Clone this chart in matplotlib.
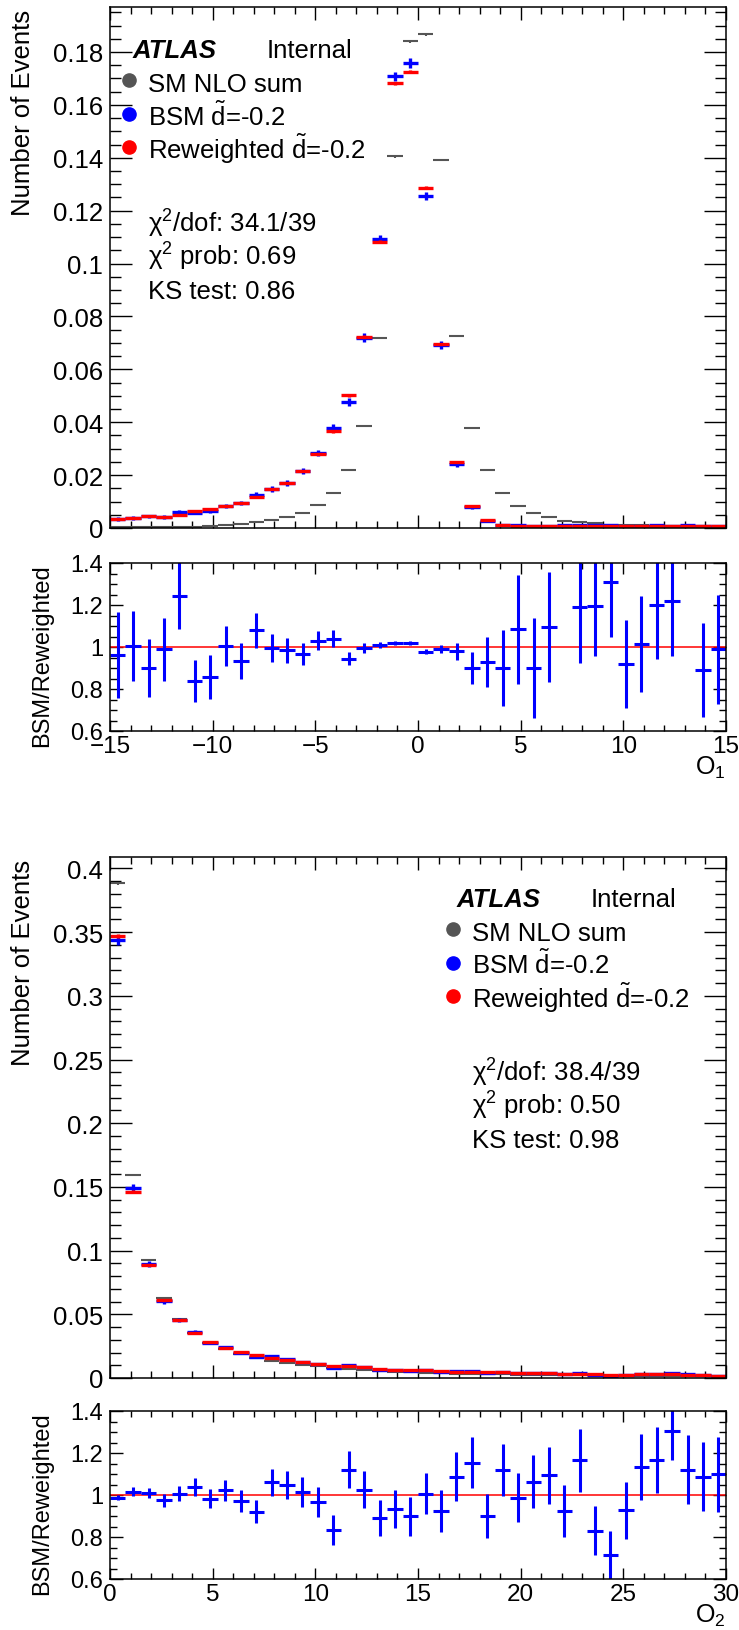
import numpy as np
import matplotlib
matplotlib.use('Agg')
import matplotlib.pyplot as plt
from matplotlib.ticker import MultipleLocator, FuncFormatter

plt.rcParams['font.family'] = ['Liberation Sans', 'DejaVu Sans']
plt.rcParams['mathtext.fontset'] = 'custom'
plt.rcParams['mathtext.rm'] = 'Liberation Sans'
plt.rcParams['mathtext.it'] = 'Liberation Sans:italic'
plt.rcParams['mathtext.bf'] = 'Liberation Sans:bold'

# ---------------- data: O1, 40 bins in [-15, 15] ----------------
o1_edges = np.linspace(-15, 15, 41)
o1_sm = [0.0003, 0.0003, 0.0003, 0.0003, 0.0004, 0.0005, 0.0009, 0.0013, 0.0016, 0.0021,
         0.0030, 0.0040, 0.0058, 0.0087, 0.0133, 0.0220, 0.0385, 0.0718, 0.1406, 0.1841,
         0.1867, 0.1392, 0.0725, 0.0380, 0.0220, 0.0134, 0.0085, 0.0056, 0.0041, 0.0028,
         0.0021, 0.0018, 0.0013, 0.0011, 0.0010, 0.0009, 0.0008, 0.0007, 0.0006, 0.0005]
o1_bsm = [0.0035, 0.0038, 0.0044, 0.0042, 0.0059, 0.0057, 0.0064, 0.0083, 0.0093, 0.0126,
          0.0148, 0.0170, 0.0215, 0.0284, 0.0378, 0.0476, 0.0719, 0.1093, 0.1709, 0.1758,
          0.1256, 0.0692, 0.0242, 0.0079, 0.0027, 0.0011, 0.0010, 0.0007, 0.0009, 0.0011,
          0.0010, 0.0010, 0.0011, 0.0007, 0.0008, 0.0010, 0.0009, 0.0011, 0.0006, 0.0007]
o1_rw = [0.0035, 0.0038, 0.0045, 0.0042, 0.0051, 0.0063, 0.0073, 0.0083, 0.0093, 0.0119,
         0.0148, 0.0169, 0.0215, 0.0281, 0.0365, 0.0502, 0.0723, 0.1083, 0.1681, 0.1725,
         0.1286, 0.0696, 0.0250, 0.0085, 0.0030, 0.0012, 0.0009, 0.0008, 0.0008, 0.0008,
         0.0008, 0.0008, 0.0008, 0.0008, 0.0008, 0.0008, 0.0007, 0.0007, 0.0007, 0.0007]
o1_ratio = [0.96, 1.005, 0.90, 0.99, 1.245, 0.84, 0.857, 1.005, 0.935, 1.08,
            0.995, 0.985, 0.965, 1.03, 1.04, 0.945, 0.995, 1.01, 1.02, 1.02,
            0.978, 0.99, 0.98, 0.90, 0.93, 0.90, 1.085, 0.90, 1.095, np.nan,
            1.19, 1.195, 1.31, 0.92, 1.015, 1.20, 1.22, np.nan, 0.89, 0.99]
o1_ratio_err = [0.205, 0.165, 0.137, 0.15, 0.16, 0.10, 0.103, 0.095, 0.085, 0.083,
                0.068, 0.06, 0.053, 0.045, 0.04, 0.03, 0.023, 0.015, 0.01, 0.01,
                0.013, 0.02, 0.04, 0.078, 0.12, 0.18, 0.26, 0.24, 0.26, 0.25,
                0.265, 0.24, 0.26, 0.21, 0.228, 0.255, 0.265, 0.25, 0.225, 0.26]
o1_stats = ['34.1/39', '0.69', '0.86']

# ---------------- data: O2, 40 bins in [0, 30] ----------------
o2_edges = np.linspace(0, 30, 41)
o2_sm = [0.3884, 0.1593, 0.0926, 0.0631, 0.0460, 0.0352, 0.0274, 0.0225, 0.0187, 0.0160,
         0.0135, 0.0120, 0.0100, 0.0092, 0.0075, 0.0070, 0.0061, 0.0053, 0.0049, 0.0045,
         0.0041, 0.0038, 0.0035, 0.0032, 0.0030, 0.0028, 0.0026, 0.0025, 0.0023, 0.0022,
         0.0021, 0.0020, 0.0019, 0.0018, 0.0017, 0.0016, 0.0016, 0.0015, 0.0014, 0.0013]
o2_bsm = [0.3437, 0.1490, 0.0897, 0.0601, 0.0455, 0.0362, 0.0278, 0.0242, 0.0199, 0.0166,
          0.0170, 0.0150, 0.0125, 0.0108, 0.0078, 0.0103, 0.0086, 0.0064, 0.0062, 0.0055,
          0.0062, 0.0049, 0.0055, 0.0054, 0.0040, 0.0049, 0.0041, 0.0043, 0.0040, 0.0030,
          0.0036, 0.0025, 0.0019, 0.0023, 0.0034, 0.0035, 0.0039, 0.0029, 0.0024, 0.0019]
o2_rw = [0.3470, 0.1463, 0.0886, 0.0615, 0.0453, 0.0352, 0.0282, 0.0236, 0.0206, 0.0179,
         0.0160, 0.0143, 0.0123, 0.0112, 0.0093, 0.0092, 0.0084, 0.0072, 0.0066, 0.0061,
         0.0062, 0.0053, 0.0051, 0.0047, 0.0045, 0.0044, 0.0042, 0.0040, 0.0037, 0.0032,
         0.0031, 0.0030, 0.0027, 0.0025, 0.0030, 0.0030, 0.0030, 0.0026, 0.0022, 0.0017]
o2_ratio = [0.988, 1.016, 1.01, 0.974, 1.007, 1.037, 0.983, 1.023, 0.972, 0.92,
            1.061, 1.047, 1.015, 0.967, 0.834, 1.12, 1.024, 0.89, 0.933, 0.898,
            1.007, 0.925, 1.088, 1.154, 0.90, 1.12, 0.988, 1.064, 1.094, 0.925,
            1.165, 0.83, 0.715, 0.928, 1.135, 1.165, 1.305, 1.12, 1.088, 1.099]
o2_ratio_err = [0.01, 0.02, 0.025, 0.03, 0.035, 0.042, 0.045, 0.05, 0.052, 0.055,
                0.065, 0.068, 0.071, 0.07, 0.07, 0.088, 0.088, 0.087, 0.089, 0.093,
                0.097, 0.10, 0.116, 0.12, 0.106, 0.124, 0.116, 0.125, 0.135, 0.125,
                0.15, 0.117, 0.115, 0.136, 0.157, 0.157, 0.136, 0.164, 0.163, 0.179]
o2_stats = ['38.4/39', '0.50', '0.98']

C_SM = '#555555'
C_BSM = '#0000ff'
C_RW = '#ff0000'

W, H = 739, 1631
L, R = 110, 726
PT = 0.72  # points per pixel at dpi 100


def rect(top, bottom):
    return [L / W, 1 - bottom / H, (R - L) / W, (bottom - top) / H]


def fx(x):
    return x / W


def fy(y):
    return 1 - y / H


def fmt_num(v, _):
    s = f'{v:g}'
    if abs(v) < 1e-9:
        s = '0'
    return s.replace('-', '\u2212')


def style_axis(ax, xmaj, xmin, ymaj, ymin, xlen, ylen, lab_y, lab_x):
    ax.xaxis.set_major_locator(MultipleLocator(xmaj))
    ax.xaxis.set_minor_locator(MultipleLocator(xmin))
    ax.yaxis.set_major_locator(MultipleLocator(ymaj))
    ax.yaxis.set_minor_locator(MultipleLocator(ymin))
    ax.xaxis.set_major_formatter(FuncFormatter(fmt_num))
    ax.yaxis.set_major_formatter(FuncFormatter(fmt_num))
    ax.tick_params(which='both', direction='in', top=True, right=True, width=1.0)
    ax.tick_params(axis='x', which='major', length=xlen[0] * PT, labelsize=lab_x, pad=3)
    ax.tick_params(axis='x', which='minor', length=xlen[1] * PT)
    ax.tick_params(axis='y', which='major', length=ylen[0] * PT, labelsize=lab_y, pad=5)
    ax.tick_params(axis='y', which='minor', length=ylen[1] * PT)
    for sp in ax.spines.values():
        sp.set_linewidth(1.1)


def draw_hist(ax, edges, vals, errs, color, lw):
    centers = 0.5 * (edges[:-1] + edges[1:])
    half = 0.5 * (edges[1:] - edges[:-1])
    ax.errorbar(centers, vals, xerr=half, yerr=errs, fmt='none', ecolor=color,
                elinewidth=lw, capsize=0)


def panel(edges, sm, bsm, rw, ratio, ratio_err, stats, ymax, ymaj, ymin,
          top_main, bot_main, top_rat, bot_rat, leg_x, leg_y, xname):
    sm = np.array(sm)
    bsm = np.array(bsm)
    rw = np.array(rw)
    ratio = np.array(ratio)
    ratio_err = np.array(ratio_err)
    bsm_err = bsm * ratio_err
    rw_err = 0.35 * bsm_err
    sm_err = 0.3 * bsm_err

    ax = fig.add_axes(rect(top_main, bot_main))
    draw_hist(ax, edges, sm, sm_err, C_SM, 1.5)
    draw_hist(ax, edges, bsm, bsm_err, C_BSM, 2.4)
    draw_hist(ax, edges, rw, rw_err, C_RW, 2.4)
    ax.set_xlim(edges[0], edges[-1])
    ax.set_ylim(0, ymax)
    style_axis(ax, 5, 1, ymaj, ymin, (13, 7), (22, 11), 18.5, 18.5)
    ax.tick_params(axis='x', labelbottom=False)

    rax = fig.add_axes(rect(top_rat, bot_rat))
    rax.axhline(1.0, color=C_RW, lw=1.1)
    draw_hist(rax, edges, ratio, ratio_err, C_BSM, 2.2)
    rax.set_xlim(edges[0], edges[-1])
    rax.set_ylim(0.6, 1.4)
    style_axis(rax, 5, 1, 0.2, 0.05, (11, 6), (13, 7), 17, 17.5)

    # axis titles (ROOT style, aligned to top / right)
    fig.text(fx(23), fy(top_main + 2), 'Number of Events', rotation=90,
             ha='center', va='top', fontsize=18.5)
    fig.text(fx(42), fy(top_rat), 'BSM/Reweighted', rotation=90,
             ha='center', va='top', fontsize=17)
    fig.text(fx(R), fy(bot_rat + 43), xname, ha='right', va='baseline', fontsize=18)

    # ATLAS label + legend
    fig.text(fx(leg_x + 4), fy(leg_y), 'ATLAS', fontsize=18.5, fontweight='bold',
             fontstyle='italic', va='baseline')
    fig.text(fx(leg_x + 138), fy(leg_y), 'Internal', fontsize=18.5, va='baseline')
    entries = [(C_SM, 'SM NLO sum'),
               (C_BSM, r'BSM $\tilde{\mathrm{d}}$=-0.2'),
               (C_RW, r'Reweighted $\tilde{\mathrm{d}}$=-0.2')]
    for k, (c, lab) in enumerate(entries):
        base = leg_y + 34 + 33.5 * k
        fig.lines.append(plt.Line2D([fx(leg_x)], [fy(base - 11)], marker='o',
                                    markersize=9.5, color=c, linestyle='none',
                                    transform=fig.transFigure))
        fig.text(fx(leg_x + 19), fy(base), lab, fontsize=18.5, va='baseline')

    lines = ['χ$^{2}$/dof: ' + stats[0], 'χ$^{2}$ prob: ' + stats[1], 'KS test: ' + stats[2]]
    for k, s in enumerate(lines):
        fig.text(fx(leg_x + 19), fy(leg_y + 175 + 33 * k), s, fontsize=18.5, va='baseline')


fig = plt.figure(figsize=(W / 100, H / 100), dpi=100)

panel(o1_edges, o1_sm, o1_bsm, o1_rw, o1_ratio, o1_ratio_err, o1_stats,
      0.197, 0.02, 0.005, 8, 529, 564, 732, 129, 58, r'O$_{1}$')
panel(o2_edges, o2_sm, o2_bsm, o2_rw, o2_ratio, o2_ratio_err, o2_stats,
      0.409, 0.05, 0.01, 858, 1379, 1412, 1580, 453, 907, r'O$_{2}$')

fig.savefig('out.png', dpi=100)
